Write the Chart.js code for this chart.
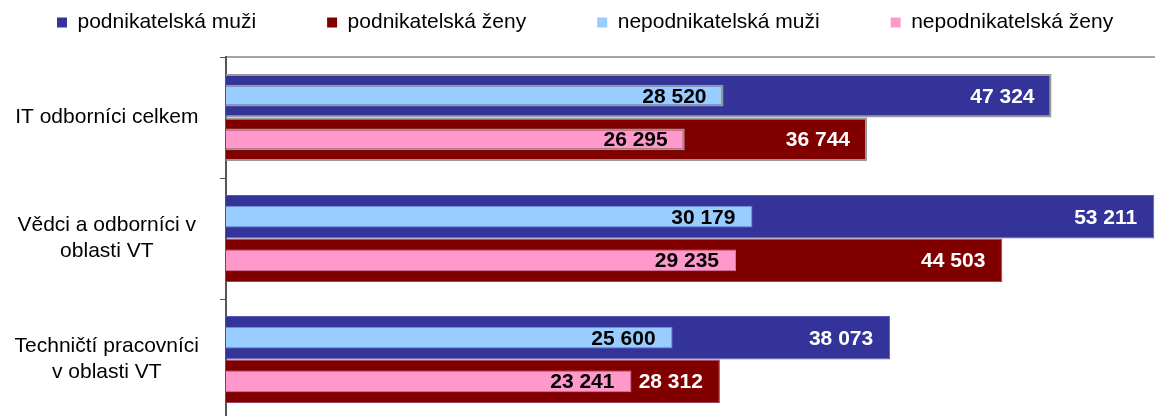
<!DOCTYPE html>
<html>
<head>
<meta charset="utf-8">
<script src="https://cdn.jsdelivr.net/npm/chart.js@4.4.1/dist/chart.umd.min.js"></script>
<style>
  html, body { margin: 0; padding: 0; background: #fff; overflow: hidden; }
</style>
</head>
<body>
<canvas id="chart" width="1250" height="420"></canvas>
<script>
const categories = [
  'IT odborníci celkem',
  ['Vědci a odborníci v', 'oblasti VT'],
  ['Techničtí pracovníci', 'v oblasti VT']
];
const seriesNames = ['podnikatelská muži', 'podnikatelská ženy', 'nepodnikatelská muži', 'nepodnikatelská ženy'];
const podnikatelskaMuzi = [47324, 53211, 38073];
const podnikatelskaZeny = [36744, 44503, 28312];
const nepodnikatelskaMuzi = [28520, 30179, 25600];
const nepodnikatelskaZeny = [26295, 29235, 23241];

Chart.defaults.font.family = "'Liberation Sans', Arial, sans-serif";
Chart.defaults.color = '#000';

const fmt = v => String(v).replace(/\B(?=(\d{3})+(?!\d))/g, ' ');

// value labels, right-aligned inside each bar
const barLabels = {
  id: 'barLabels',
  afterDatasetsDraw(chart) {
    const ctx = chart.ctx;
    ctx.save();
    ctx.font = "bold 21px 'Liberation Sans', Arial, sans-serif";
    ctx.textAlign = 'right';
    ctx.textBaseline = 'middle';
    chart.data.datasets.forEach((ds, i) => {
      const meta = chart.getDatasetMeta(i);
      ctx.fillStyle = ds.labelColor;
      meta.data.forEach((bar, j) => {
        ctx.fillText(fmt(ds.data[j]), bar.x - 17, bar.y + 1);
      });
    });
    ctx.restore();
  }
};

const ctx = document.getElementById('chart');

new Chart(ctx, {
  type: 'bar',
  data: {
    labels: categories,
    datasets: [
      {
        label: seriesNames[0],
        data: podnikatelskaMuzi,
        stack: 'muzi',
        order: 1,
        backgroundColor: '#333399',
        borderColor: ['#999999', '#5a5ab4', '#5a5ab4'],
        borderWidth: [2, 1, 1],
        barPercentage: 1,
        categoryPercentage: 0.72,
        labelColor: '#fff'
      },
      {
        label: seriesNames[1],
        data: podnikatelskaZeny,
        stack: 'zeny',
        order: 1,
        backgroundColor: '#800000',
        borderColor: ['#999999', '#a0405a', '#a0405a'],
        borderWidth: [2, 1, 1],
        barPercentage: 1,
        categoryPercentage: 0.72,
        labelColor: '#fff'
      },
      {
        label: seriesNames[2],
        data: nepodnikatelskaMuzi,
        stack: 'muzi',
        order: 0,
        backgroundColor: '#99ccff',
        borderColor: ['#999999', '#6f8fd6', '#6f8fd6'],
        borderWidth: [2, 1, 1],
        barPercentage: 0.5,
        categoryPercentage: 0.72,
        labelColor: '#000'
      },
      {
        label: seriesNames[3],
        data: nepodnikatelskaZeny,
        stack: 'zeny',
        order: 0,
        backgroundColor: '#ff99cc',
        borderColor: ['#999999', '#d97aa6', '#d97aa6'],
        borderWidth: [2, 1, 1],
        barPercentage: 0.5,
        categoryPercentage: 0.72,
        labelColor: '#000'
      }
    ]
  },
  options: {
    indexAxis: 'y',
    responsive: false,
    animation: false,
    layout: { padding: { top: -59, left: -14, right: 0, bottom: 0 } },
    plugins: {
      legend: {
        position: 'top',
        align: 'start',
        labels: {
          boxWidth: 10,
          boxHeight: 10,
          padding: 71,
          font: { size: 21 },
          sort: (a, b) => a.datasetIndex - b.datasetIndex,
          generateLabels: chart => Chart.defaults.plugins.legend.labels.generateLabels(chart)
            .map(l => ({ ...l, lineWidth: 0, strokeStyle: l.fillStyle }))
        }
      },
      tooltip: { enabled: false }
    },
    scales: {
      x: {
        position: 'top',
        min: 0,
        max: 58700,
        stacked: false,
        grid: { display: false },
        ticks: { display: false },
        border: { color: '#a6a6a6', width: 2 },
        afterFit: s => { s.height = 14; }
      },
      y: {
        grid: { drawOnChartArea: false, tickLength: 6, color: '#555' },
        border: { color: '#555', width: 2 },
        ticks: {
          color: '#000',
          crossAlign: 'center',
          padding: 21,
          font: { size: 21, lineHeight: 1.25 }
        },
        afterFit: s => {
          s.width = 240;
          s.paddingTop = 0;
          s.paddingBottom = 0;
        }
      }
    }
  },
  plugins: [barLabels]
});
</script>
</body>
</html>
